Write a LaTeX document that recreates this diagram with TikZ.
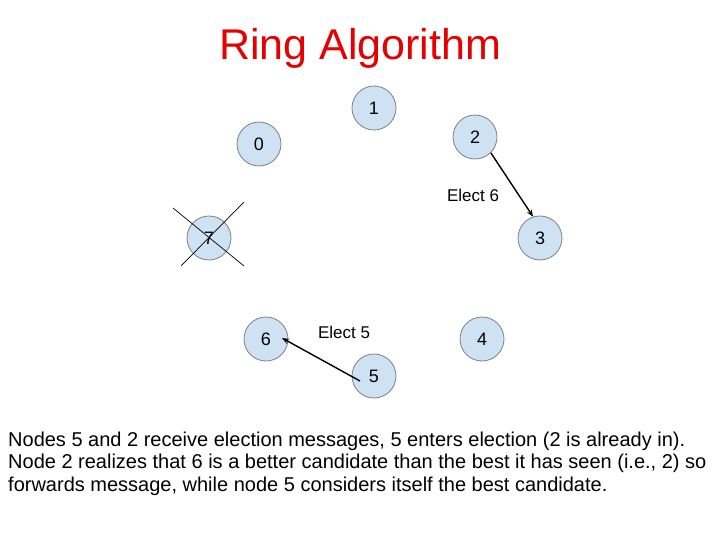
\documentclass[tikz,border=0pt]{standalone}
\usepackage{fontspec}
\setmainfont{Liberation Sans}
\usetikzlibrary{arrows.meta,calc}
\definecolor{nodefill}{RGB}{207,226,243}
\definecolor{nodeedge}{RGB}{128,128,128}
\definecolor{titlered}{RGB}{230,0,0}
\begin{document}
\begin{tikzpicture}[x=1pt,y=-1pt,
  ringnode/.style={circle,draw=nodeedge,line width=0.8pt,fill=nodefill,minimum size=44pt,inner sep=0pt,font=\fontsize{18}{18}\selectfont},
  lbl/.style={inner sep=0pt,font=\fontsize{17}{17}\selectfont},
  msg/.style={line width=1.4pt,-{Stealth[length=7pt,width=5.5pt]}},
  crossline/.style={line width=0.7pt,black}]
\useasboundingbox[fill=white] (0,0) rectangle (720,540);
\node[anchor=base,text=titlered,inner sep=0pt,font=\fontsize{43}{43}\selectfont] (title) at (360,60) {Ring Algorithm};
\node[ringnode] (n1) at (374,108) {1};
\node[ringnode] (n0) at (259,144) {0};
\node[ringnode] (n2) at (475,137) {2};
\node[ringnode] (n7) at (209,238) {7};
\node[ringnode] (n3) at (540,238) {3};
\node[ringnode] (n6) at (266,339) {6};
\node[ringnode] (n4) at (482,339) {4};
\node[ringnode] (n5) at (374,376) {5};
\draw[crossline] (173,208) -- (244,266);
\draw[crossline] (244,202) -- (181,266);
\node[lbl] (e6) at (473,195) {Elect 6};
\node[lbl] (e5) at (344,332) {Elect 5};
\coordinate (s5) at ($(n5.center)+(-14,5)$);
\coordinate (t6) at ($(n6.center)+(16,-1)$);
\draw[msg] (n2.-45) -- (n3.108);
\draw[msg] (s5) -- (t6);
\node[anchor=base west,inner sep=0pt,align=left,font=\fontsize{20}{22.5}\selectfont] (body) at (8,491) {Nodes 5 and 2 receive election messages, 5 enters election (2 is already in).\\
Node 2 realizes that 6 is a better candidate than the best it has seen (i.e., 2) so\\
forwards message, while node 5 considers itself the best candidate.};
\end{tikzpicture}
\end{document}
